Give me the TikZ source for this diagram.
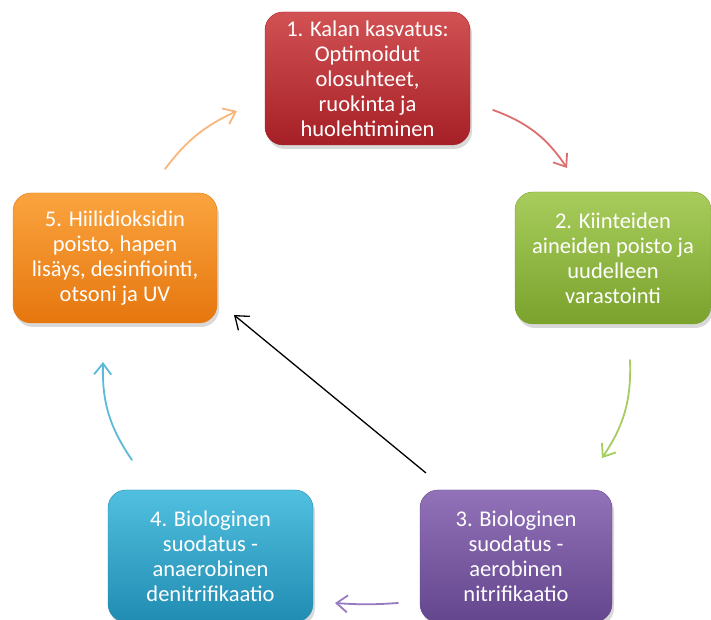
\documentclass[tikz,border=0pt]{standalone}
\usepackage{fontspec}
\setmainfont{Carlito}
\usetikzlibrary{arrows.meta,shadows}
\definecolor{redA}{RGB}{206,66,68}
\definecolor{redB}{RGB}{165,32,38}
\definecolor{greenA}{RGB}{160,200,78}
\definecolor{greenB}{RGB}{122,162,44}
\definecolor{orangeA}{RGB}{250,156,46}
\definecolor{orangeB}{RGB}{230,118,14}
\definecolor{tealA}{RGB}{66,186,220}
\definecolor{tealB}{RGB}{32,140,178}
\definecolor{purpleA}{RGB}{136,102,178}
\definecolor{purpleB}{RGB}{100,70,142}
\definecolor{redL}{RGB}{222,110,110}
\definecolor{greenL}{RGB}{165,205,95}
\definecolor{purpleL}{RGB}{150,122,192}
\definecolor{tealL}{RGB}{92,186,216}
\definecolor{orangeL}{RGB}{250,182,122}
\tikzset{
  cyclebox/.style={rounded corners=18pt, align=center, text=white,
    font=\fontsize{22.5}{25}\selectfont, inner sep=0pt,
    drop shadow={opacity=0.3, shadow xshift=2pt, shadow yshift=-4pt}},
  cyclearrow/.style={line width=1.8pt, line cap=round,
    -{Straight Barb[length=11pt,width=17pt,line width=1.8pt]}},
}
\begin{document}
\begin{tikzpicture}[x=1pt,y=1pt]
\useasboundingbox (0,0) rectangle (711,620);
% boxes (tikz y = 620 - pixel y)
\node[cyclebox, minimum width=205pt, minimum height=133pt,
  top color=redA!92!white, bottom color=redB, draw=redB]
  (b1) at (367.5,541.5) {1. Kalan kasvatus:\\Optimoidut\\olosuhteet,\\ruokinta ja\\huolehtiminen};
\node[cyclebox, minimum width=196pt, minimum height=132pt,
  top color=greenA!92!white, bottom color=greenB, draw=greenB]
  (b2) at (613,362) {2. Kiinteiden\\aineiden poisto ja\\uudelleen\\varastointi};
\node[cyclebox, minimum width=192pt, minimum height=132pt,
  top color=purpleA!92!white, bottom color=purpleB, draw=purpleB]
  (b3) at (516,64) {3. Biologinen\\suodatus -\\aerobinen\\nitrifikaatio};
\node[cyclebox, minimum width=205pt, minimum height=132pt,
  top color=tealA!92!white, bottom color=tealB, draw=tealB]
  (b4) at (210.5,64) {4. Biologinen\\suodatus -\\anaerobinen\\denitrifikaatio};
\node[cyclebox, minimum width=204pt, minimum height=130pt,
  top color=orangeA!92!white, bottom color=orangeB, draw=orangeB]
  (b5) at (115,362) {5. Hiilidioksidin\\poisto, hapen\\lisäys, desinfiointi,\\otsoni ja UV};
% arrow end points
\coordinate (r1) at (493,510); \coordinate (r2) at (567,452);
\coordinate (g1) at (630,260); \coordinate (g2) at (602,162);
\coordinate (p1) at (398,17);  \coordinate (p2) at (335,17);
\coordinate (t1) at (132,160); \coordinate (t2) at (103,258);
\coordinate (o1) at (165,451); \coordinate (o2) at (237,509);
\coordinate (k1) at (426,147); \coordinate (k2) at (234,305);
\draw[cyclearrow, redL] (r1) to[bend left=18] (r2);
\draw[cyclearrow, greenL] (g1) to[bend left=18] (g2);
\draw[cyclearrow, purpleL] (p1) to[bend left=4] (p2);
\draw[cyclearrow, tealL] (t1) to[bend left=18] (t2);
\draw[cyclearrow, orangeL] (o1) to[bend left=14] (o2);
\draw[line width=1.3pt, -{Straight Barb[length=12pt,width=18pt,line width=1.3pt]}] (k1) -- (k2);
\end{tikzpicture}
\end{document}
